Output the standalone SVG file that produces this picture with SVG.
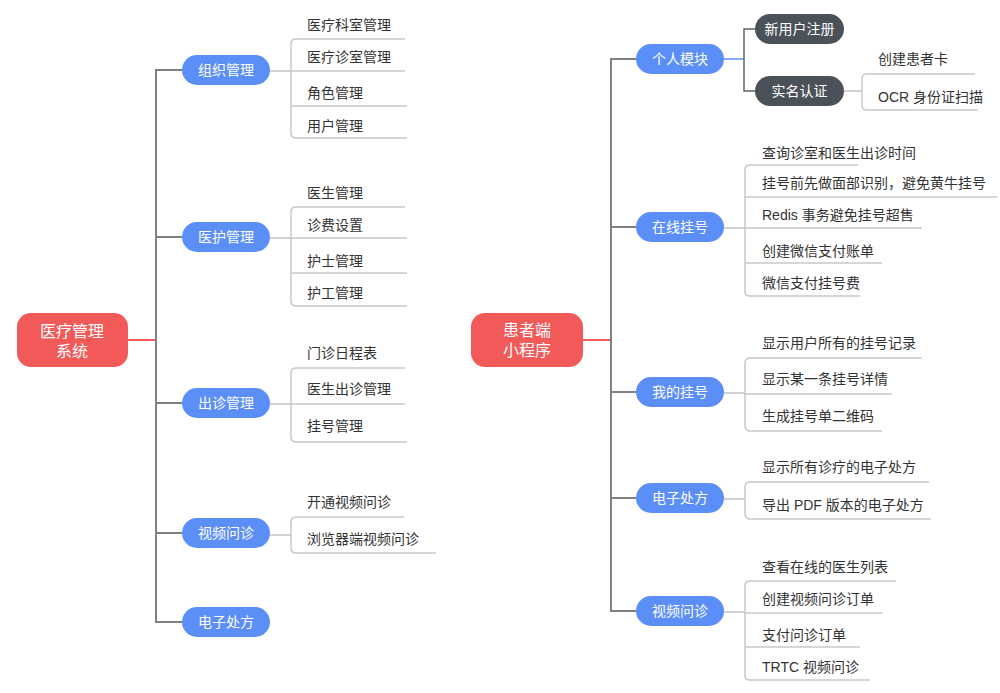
<svg xmlns="http://www.w3.org/2000/svg" width="1000" height="693" viewBox="0 0 1000 693">
<style>
text{font-family:"Liberation Sans","Noto Sans CJK SC",sans-serif;}
.root{fill:#f25a5a;}
.blue{fill:#5b8ff7;}
.dark{fill:#4b5159;}
.nt{fill:#ffffff;font-size:14px;text-anchor:middle;dominant-baseline:central;}
.rt{fill:#ffffff;font-size:16px;text-anchor:middle;dominant-baseline:central;}
.ct{fill:#333333;font-size:14px;dominant-baseline:central;}
.trunk{fill:none;stroke:#808080;stroke-width:2;}
.red{fill:none;stroke:#f25a5a;stroke-width:2;}
.br{fill:none;stroke:#c9c9c9;stroke-width:1.5;}
.cn{fill:none;stroke:#c2c2c2;stroke-width:1.5;}
.bl{fill:none;stroke:#5b8ff7;stroke-width:1.5;}
.dk{fill:none;stroke:#5f656d;stroke-width:1.5;}
</style>
<rect width="1000" height="693" fill="#ffffff"/>
<g id="connectors">
  <!-- left tree -->
  <path class="red" d="M128,340 H156"/>
  <path class="trunk" d="M182,70 H156 V622 H182 M156,237 H182 M156,403 H182 M156,533 H182"/>
  <path class="cn" d="M270,71 H291 M270,238 H291 M270,404 H291 M270,535 H291"/>
  <path class="br" d="M405,39 H296 Q291,39 291,44 V133 Q291,138 296,138 H407 M291,71 H405 M291,106 H407"/>
  <path class="br" d="M405,207 H296 Q291,207 291,212 V301 Q291,306 296,306 H407 M291,238 H407 M291,273 H407"/>
  <path class="br" d="M405,368 H296 Q291,368 291,373 V437 Q291,442 296,442 H407 M291,404 H405"/>
  <path class="br" d="M404,517 H296 Q291,517 291,522 V548 Q291,553 296,553 H436"/>
  <!-- right tree -->
  <path class="red" d="M583,340 H611"/>
  <path class="trunk" d="M636,59 H611 V611 H636 M611,227 H636 M611,392 H636 M611,498 H636"/>
  <path class="bl" d="M724,59 H744"/>
  <path class="dk" d="M755,29 H744 V91 H755"/>
  <path class="cn" d="M844,91 H862"/>
  <path class="br" d="M975,74 H867 Q862,74 862,79 V105 Q862,110 867,110 H978"/>
  <path class="cn" d="M724,228 H745 M724,393 H745 M724,499 H745 M724,612 H745"/>
  <path class="br" d="M858,165 H750 Q745,165 745,170 V291 Q745,296 750,296 H860 M745,197 H997 M745,228 H922 M745,263 H882"/>
  <path class="br" d="M922,358 H750 Q745,358 745,363 V426 Q745,431 750,431 H882 M745,394 H892"/>
  <path class="br" d="M929,482 H750 Q745,482 745,487 V514 Q745,519 750,519 H931"/>
  <path class="br" d="M896,581 H750 Q745,581 745,586 V675 Q745,680 750,680 H870 M745,613 H883 M745,647 H860"/>
</g>
<g id="root-left">
  <rect class="root" x="17" y="313" width="111" height="54" rx="14"/>
  <text class="rt" x="72" y="331">医疗管理</text>
  <text class="rt" x="72" y="351">系统</text>
</g>
<g id="node-zuzhi">
  <rect class="blue" x="182" y="55" width="88" height="30" rx="15"/>
  <text class="nt" x="226" y="70">组织管理</text>
  <text class="ct" x="307" y="25">医疗科室管理</text>
  <text class="ct" x="307" y="57">医疗诊室管理</text>
  <text class="ct" x="307" y="93">角色管理</text>
  <text class="ct" x="307" y="126">用户管理</text>
</g>
<g id="node-yihu">
  <rect class="blue" x="182" y="222" width="88" height="30" rx="15"/>
  <text class="nt" x="226" y="237">医护管理</text>
  <text class="ct" x="307" y="193">医生管理</text>
  <text class="ct" x="307" y="225">诊费设置</text>
  <text class="ct" x="307" y="261">护士管理</text>
  <text class="ct" x="307" y="293">护工管理</text>
</g>
<g id="node-chuzhen">
  <rect class="blue" x="182" y="388" width="88" height="30" rx="15"/>
  <text class="nt" x="226" y="403">出诊管理</text>
  <text class="ct" x="307" y="353">门诊日程表</text>
  <text class="ct" x="307" y="389">医生出诊管理</text>
  <text class="ct" x="307" y="426">挂号管理</text>
</g>
<g id="node-shipin-left">
  <rect class="blue" x="182" y="518" width="88" height="30" rx="15"/>
  <text class="nt" x="226" y="533">视频问诊</text>
  <text class="ct" x="307" y="502">开通视频问诊</text>
  <text class="ct" x="307" y="539">浏览器端视频问诊</text>
</g>
<g id="node-chufang-left">
  <rect class="blue" x="182" y="607" width="88" height="30" rx="15"/>
  <text class="nt" x="226" y="622">电子处方</text>
</g>
<g id="root-right">
  <rect class="root" x="471" y="313" width="112" height="54" rx="14"/>
  <text class="rt" x="527" y="330">患者端</text>
  <text class="rt" x="527" y="350">小程序</text>
</g>
<g id="node-geren">
  <rect class="blue" x="636" y="44" width="88" height="30" rx="15"/>
  <text class="nt" x="680" y="59">个人模块</text>
</g>
<g id="node-zhuce">
  <rect class="dark" x="755" y="14" width="89" height="30" rx="15"/>
  <text class="nt" x="799.5" y="29">新用户注册</text>
</g>
<g id="node-shiming">
  <rect class="dark" x="755" y="76" width="89" height="30" rx="15"/>
  <text class="nt" x="799.5" y="91">实名认证</text>
  <text class="ct" x="878" y="59">创建患者卡</text>
  <text class="ct" x="878" y="97">OCR 身份证扫描</text>
</g>
<g id="node-guahao">
  <rect class="blue" x="636" y="212" width="88" height="30" rx="15"/>
  <text class="nt" x="680" y="227">在线挂号</text>
  <text class="ct" x="762" y="153">查询诊室和医生出诊时间</text>
  <text class="ct" x="762" y="183">挂号前先做面部识别，避免黄牛挂号</text>
  <text class="ct" x="762" y="215">Redis 事务避免挂号超售</text>
  <text class="ct" x="762" y="251">创建微信支付账单</text>
  <text class="ct" x="762" y="283">微信支付挂号费</text>
</g>
<g id="node-wode">
  <rect class="blue" x="636" y="377" width="88" height="30" rx="15"/>
  <text class="nt" x="680" y="392">我的挂号</text>
  <text class="ct" x="762" y="343">显示用户所有的挂号记录</text>
  <text class="ct" x="762" y="379">显示某一条挂号详情</text>
  <text class="ct" x="762" y="416">生成挂号单二维码</text>
</g>
<g id="node-chufang-right">
  <rect class="blue" x="636" y="483" width="88" height="30" rx="15"/>
  <text class="nt" x="680" y="498">电子处方</text>
  <text class="ct" x="762" y="467">显示所有诊疗的电子处方</text>
  <text class="ct" x="762" y="505">导出 PDF 版本的电子处方</text>
</g>
<g id="node-shipin-right">
  <rect class="blue" x="636" y="596" width="88" height="30" rx="15"/>
  <text class="nt" x="680" y="611">视频问诊</text>
  <text class="ct" x="762" y="567">查看在线的医生列表</text>
  <text class="ct" x="762" y="599">创建视频问诊订单</text>
  <text class="ct" x="762" y="635">支付问诊订单</text>
  <text class="ct" x="762" y="667">TRTC 视频问诊</text>
</g>
</svg>
